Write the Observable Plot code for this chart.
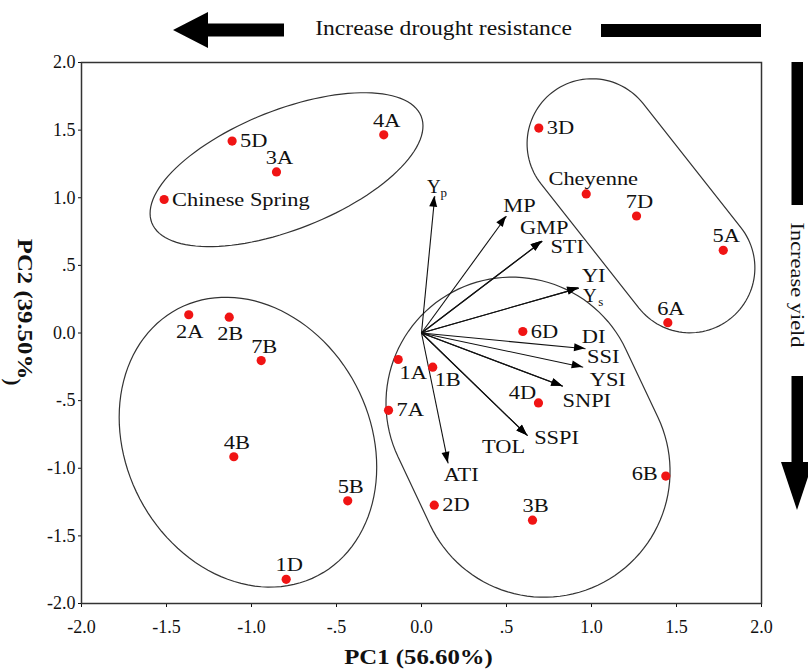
<!DOCTYPE html>
<html><head><meta charset="utf-8">
<script src="https://cdn.jsdelivr.net/npm/d3@7"></script>
<script src="https://cdn.jsdelivr.net/npm/@observablehq/plot@0.6"></script>
<style>
body{margin:0;background:#fff}
svg g[aria-label^="x-axis"] line, svg g[aria-label^="y-axis"] line{stroke-width:2.5px;stroke:#111}
</style></head><body><div id="chart"></div>
<script>
// Genotype scores
const genotypes = ["Chinese Spring","5D","3A","4A","3D","Cheyenne","7D","5A","6A","2A","2B","7B","4B","5B","1D","6D","1A","1B","4D","6B","2D","3B","7A"];
const pc1 = [-1.514,-1.114,-0.853,-0.222,0.690,0.969,1.265,1.775,1.449,-1.369,-1.131,-0.943,-1.104,-0.434,-0.796,0.596,-0.137,0.066,0.688,1.437,0.075,0.653,-0.194];
const pc2 = [0.987,1.419,1.191,1.465,1.515,1.028,0.865,0.611,0.076,0.135,0.117,-0.204,-0.915,-1.241,-1.821,0.011,-0.196,-0.253,-0.517,-1.058,-1.273,-1.384,-0.572];
const labelSide = ["r","r","t","t","r","tr","t","t","t","b","b","t","t","t","t","r","br","br","tl","l","r","t","r"];

// Index loadings (vectors)
const varNames = ["Yp","MP","GMP","STI","YI","Ys","DI","SSI","YSI","SNPI","SSPI","TOL","ATI"];
const varPC1 = [0.078,0.500,0.710,0.710,0.925,0.925,0.965,0.951,0.831,0.831,0.624,0.624,0.157];
const varPC2 = [1.011,0.863,0.678,0.678,0.332,0.332,-0.117,-0.253,-0.394,-0.394,-0.759,-0.759,-0.964];
// label nudges (px) relative to vector tips
const varLabelDx = [-1,13,2,25,15,11,8,20,45,24,29,-24,13];
const varLabelDy = [-9,-10,-13,6,-12,8,-12,-10,-6,15,2,11,12];

// Axis ticks
const tickValues = [-2,-1.5,-1,-0.5,0,0.5,1,1.5,2];
const tickLabels = ["-2.0","-1.5","-1.0","-.5","0.0",".5","1.0","1.5","2.0"];

// Group enclosures (centers in data units, radii in PC1 units)
const ellipses = [
  {cx:-0.791, cy:1.204, a:0.852, b:0.351, angle:-21.6},
  {cx:-1.018, cy:-0.811, a:0.886, b:0.718, angle:62.3}
];
const capsules = [
  {x1:1.006, y1:1.396, x2:1.582, y2:0.478, r:0.382},
  {x1:0.535, y1:-0.522, x2:0.724, y2:-1.026, r:0.741}
];

const points = genotypes.map((g,i)=>({name:g, pc1:pc1[i], pc2:pc2[i], side:labelSide[i]}));
const vars = varNames.map((n,i)=>({name:n, pc1:varPC1[i], pc2:varPC2[i], dx:varLabelDx[i], dy:varLabelDy[i]}));

const FONT = "'Liberation Serif', 'Times New Roman', serif";

function shapesMark(index, scales) {
  const g = d3.create("svg:g").attr("fill","none").attr("stroke","#333").attr("stroke-width",1.2);
  const unit = scales.x(1) - scales.x(0);
  for (const e of ellipses) {
    const cx = scales.x(e.cx), cy = scales.y(e.cy), a = e.a*unit, b = e.b*unit, th = e.angle*Math.PI/180;
    const pts = d3.range(0, 361, 3).map(d => {
      const t = d*Math.PI/180;
      return [cx + a*Math.cos(t)*Math.cos(th) - b*Math.sin(t)*Math.sin(th),
              cy + a*Math.cos(t)*Math.sin(th) + b*Math.sin(t)*Math.cos(th)];
    });
    g.append("path").attr("d", "M" + pts.map(p=>p.join(",")).join("L") + "Z");
  }
  for (const c of capsules) {
    const p1 = [scales.x(c.x1), scales.y(c.y1)], p2 = [scales.x(c.x2), scales.y(c.y2)], r = c.r*unit;
    const phi = Math.atan2(p2[1]-p1[1], p2[0]-p1[0]);
    const pts = [];
    for (let d=-90; d<=90; d+=3) { const t = phi + d*Math.PI/180; pts.push([p2[0]+r*Math.cos(t), p2[1]+r*Math.sin(t)]); }
    for (let d=90; d<=270; d+=3) { const t = phi + d*Math.PI/180; pts.push([p1[0]+r*Math.cos(t), p1[1]+r*Math.sin(t)]); }
    g.append("path").attr("d", "M" + pts.map(p=>p.join(",")).join("L") + "Z");
  }
  return g.node();
}

function headsMark(index, scales) {
  const g = d3.create("svg:g").attr("fill","#000");
  const x0 = scales.x(0), y0 = scales.y(0);
  for (const v of vars) {
    const x1 = scales.x(v.pc1), y1 = scales.y(v.pc2);
    const a = Math.atan2(y1-y0, x1-x0), L = 11, W = 4;
    const bx = x1 - L*Math.cos(a), by = y1 - L*Math.sin(a);
    const pts = [[x1,y1],[bx+W*Math.sin(a), by-W*Math.cos(a)],[bx-W*Math.sin(a), by+W*Math.cos(a)]];
    g.append("path").attr("d", "M" + pts.map(p=>p.join(",")).join("L") + "Z");
  }
  return g.node();
}

const sideStyle = {
  r:{textAnchor:"start", dx:8, dy:0},
  t:{textAnchor:"middle", dx:3, dy:-14},
  tr:{textAnchor:"middle", dx:7, dy:-15},
  b:{textAnchor:"middle", dx:1, dy:17},
  l:{textAnchor:"end", dx:-8, dy:-2},
  br:{textAnchor:"middle", dx:15, dy:13},
  tl:{textAnchor:"middle", dx:-16, dy:-10}
};

const common = {fontFamily:FONT, fill:"#111", lineAnchor:"middle"};

const pointLabelMarks = Object.entries(sideStyle).map(([k,s]) =>
  Plot.text(points.filter(p=>p.side===k), {x:"pc1", y:"pc2", text:"name", textAnchor:s.textAnchor, dx:s.dx, dy:s.dy,
    fontSize:19, ...common}));

const varLabelMarks = vars.map(v =>
  Plot.text([v], {x:"pc1", y:"pc2", text: d => (d.name==="Yp"||d.name==="Ys") ? "Y" : d.name, textAnchor:"middle", dx:v.dx, dy:v.dy,
    fontSize:19, ...common}));
const subMarks = vars.filter(v=>v.name==="Yp"||v.name==="Ys").map(v =>
  Plot.text([v], {x:"pc1", y:"pc2", text: d => d.name.slice(1), textAnchor:"middle", dx: v.name==="Yp" ? 9 : 22, dy: v.name==="Yp" ? -3 : 13.5,
    fontSize:13, ...common}));

const svg = Plot.plot({
  width: 808, height: 672,
  marginLeft: 81, marginRight: 47, marginTop: 62, marginBottom: 69,
  style: {fontFamily: FONT, fontSize: "18px", color: "#111", background: "#fff"},
  x: {domain:[-2,2], ticks: tickValues, tickFormat: d => tickLabels[tickValues.indexOf(d)], tickSize:4, tickPadding:13, label:null},
  y: {domain:[-2,2], ticks: tickValues, tickFormat: d => tickLabels[tickValues.indexOf(d)], tickSize:3, tickPadding:3, label:null},
  marks: [
    shapesMark,
    Plot.link(vars, {x1:0, y1:0, x2:"pc1", y2:"pc2", stroke:"#111", strokeWidth:1.1}),
    headsMark,
    Plot.dot(points, {x:"pc1", y:"pc2", r:4.6, fill:"#f01414"}),
    ...pointLabelMarks,
    ...varLabelMarks,
    ...subMarks,
    Plot.frame({stroke:"#333", strokeWidth:1.5}),
    Plot.text(["PC1 (56.60%)"], {text:d=>d, frameAnchor:"bottom", textAnchor:"middle", dx:-3, dy:54, fontSize:21, fontWeight:"bold", ...common}),
    Plot.text(["PC2 (39.50%"], {text:d=>d, frameAnchor:"left", textAnchor:"middle", dx:-57, dy:-24, rotate:90, fontSize:21, fontWeight:"bold", ...common}),
    Plot.text([")"], {text:d=>d, frameAnchor:"left", textAnchor:"middle", dx:-69, dy:49, rotate:90, fontSize:21, fontWeight:"bold", ...common}),
    Plot.text(["Increase drought resistance"], {text:d=>d, frameAnchor:"top", textAnchor:"middle", dx:22, dy:-34, fontSize:20, ...common}),
    Plot.text(["Increase yield"], {text:d=>d, frameAnchor:"right", textAnchor:"middle", dx:36, dy:-48, rotate:90, fontSize:19, ...common})
  ]
});

// widen the serif lettering like the reference (not the tick labels)
const isNum = v => v !== null && v !== "" && isFinite(+v);
d3.select(svg).selectAll("text").filter(function(){
  return !this.closest('[aria-label*="axis"]') && this.textContent.length > 1;
}).each(function(){
  let t = this.getAttribute("transform") || "";
  const x = this.getAttribute("x"), y = this.getAttribute("y");
  if (!t && (isNum(x) || isNum(y))) {
    t = `translate(${isNum(x) ? +x : 0},${isNum(y) ? +y : 0})`;
    if (isNum(x)) this.removeAttribute("x");
    if (isNum(y)) this.removeAttribute("y");
  }
  this.setAttribute("transform", (t + " scale(1.18,1)").trim());
});

// direction banners
const deco = d3.select(svg).append("g").attr("fill","#000");
deco.append("path").attr("d","M173,30L208,12L208,23.5L284,23.5L284,36.5L208,36.5L208,48Z");
deco.append("rect").attr("x",601).attr("y",24).attr("width",160).attr("height",13);
deco.append("rect").attr("x",791.5).attr("y",62).attr("width",11.5).attr("height",143);
deco.append("path").attr("d","M791.5,376L803,376L803,462L813,462L797,510L781,462L791.5,462Z");

document.getElementById("chart").appendChild(svg);
</script></body></html>
